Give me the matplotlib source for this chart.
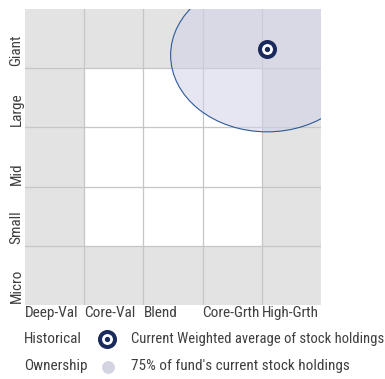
import matplotlib.pyplot as plt
import numpy as np
from matplotlib.colors import ListedColormap
from matplotlib.patches import Ellipse

plt.rcParams['font.family'] = ['Roboto Condensed', 'Archivo Narrow', 'DejaVu Sans']

style_labels = ['Deep-Val', 'Core-Val', 'Blend', 'Core-Grth', 'High-Grth']
size_labels = ['Micro', 'Small', 'Mid', 'Large', 'Giant']

# shaded cells of the style box, bottom row (Micro) first
shade = [[1, 1, 1, 1, 1],
         [1, 0, 0, 0, 1],
         [1, 0, 0, 0, 1],
         [1, 0, 0, 0, 1],
         [1, 1, 1, 1, 1]]

# weighted average of holdings (style score, size score)
centroid_x = 4.09
centroid_y = 4.33
# ownership zone covering 75% of holdings
zone_x = 4.09
zone_y = 4.22
zone_w = 3.26
zone_h = 2.59

navy = '#1b2a5c'
txt = '#3f3f3f'
fs = 11

fig = plt.figure(figsize=(3.85, 3.79), dpi=100)
ax = fig.add_axes([25 / 385, 74 / 379, 296 / 385, 296 / 379])

ax.pcolormesh(np.arange(6), np.arange(6), np.array(shade),
              cmap=ListedColormap(['white', '#e3e3e3']), vmin=0, vmax=1, zorder=0)
for i in range(1, 5):
    ax.axhline(i, color='#c6c6c6', lw=0.9, zorder=1)
    ax.axvline(i, color='#c6c6c6', lw=0.9, zorder=1)

ax.add_patch(Ellipse((zone_x, zone_y), zone_w, zone_h, facecolor='#d0d2e6',
                     alpha=0.55, edgecolor='none', zorder=2))
ax.add_patch(Ellipse((zone_x, zone_y), zone_w, zone_h, facecolor='none',
                     edgecolor='#2d5a96', lw=0.8, zorder=3))

ax.plot(centroid_x, centroid_y, 'o', ms=10.8, mfc='white', mec=navy, mew=2.9, zorder=4)
ax.plot(centroid_x, centroid_y, 'o', ms=2.8, color=navy, zorder=5)

ax.set_xlim(0, 5)
ax.set_ylim(0, 5)
ax.set_xticks(range(5))
ax.set_xticklabels(style_labels, ha='left', fontsize=fs, color=txt)
ax.set_yticks(np.arange(5) + 0.03)
ax.set_yticklabels(size_labels, rotation=90, va='bottom', fontsize=fs, color=txt)
ax.tick_params(length=0, pad=1)
for s in ax.spines.values():
    s.set_visible(False)

# legend underneath, in pixel coordinates
lg = fig.add_axes([0, 0, 1, 1], zorder=-1)
lg.set_xlim(0, 385)
lg.set_ylim(379, 0)
lg.axis('off')
lg.text(24, 339, 'Historical', va='center', fontsize=fs, color=txt)
lg.plot(107, 339, 'o', ms=10.8, mfc='white', mec=navy, mew=2.9)
lg.plot(107, 339, 'o', ms=2.8, color=navy)
lg.text(131, 339, 'Current Weighted average of stock holdings', va='center',
        fontsize=10.5, color=txt)
lg.text(24, 366, 'Ownership', va='center', fontsize=fs, color=txt)
lg.plot(108, 367, 'o', ms=8.2, color='#d3d4e2')
lg.text(131, 366, "75% of fund's current stock holdings", va='center',
        fontsize=fs, color=txt)

fig.savefig('out.png', dpi=100)
